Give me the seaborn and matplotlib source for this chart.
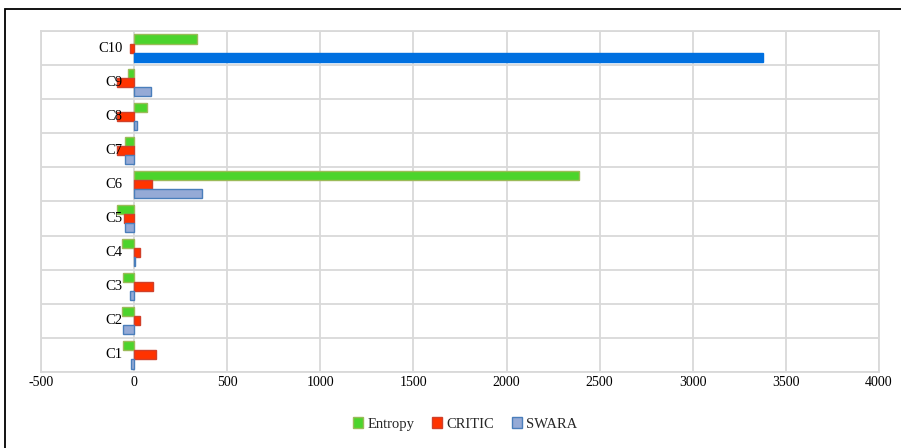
import matplotlib
matplotlib.use("Agg")
import matplotlib.pyplot as plt
import seaborn as sns
import pandas as pd
from matplotlib.patches import Patch, Rectangle
from matplotlib.transforms import blended_transform_factory, offset_copy

# Criteria and scores of the three weighting methods
criteria = ["C1", "C2", "C3", "C4", "C5", "C6", "C7", "C8", "C9", "C10"]
entropy = [-61, -63, -61, -66, -93, 2387, -47, 68, -32, 340]
critic = [118, 32, 104, 31, -52, 96, -90, -90, -93, -23]
swara = [-16, -61, -21, 4, -48, 364, -50, 14, 91, 3378]
methods = ["Entropy", "CRITIC", "SWARA"]
xticks = [-500, 0, 500, 1000, 1500, 2000, 2500, 3000, 3500, 4000]

df = pd.DataFrame({
    "criterion": criteria * 3,
    "method": ["Entropy"] * 10 + ["CRITIC"] * 10 + ["SWARA"] * 10,
    "value": entropy + critic + swara,
})

fills = {"Entropy": "#4cd42c", "CRITIC": "#ff3300", "SWARA": "#95aad6"}
edges = {"Entropy": "#9bbb59", "CRITIC": "#d0402a", "SWARA": "#4a7ebb"}

sns.set_theme(style="white")
plt.rcParams["font.family"] = ["Liberation Serif", "DejaVu Serif"]

fig = plt.figure(figsize=(9.01, 4.48), dpi=100)
ax = fig.add_axes([41 / 901, 1 - 372 / 448, (879 - 41) / 901, (372 - 31) / 448])

order = criteria[::-1]
sns.barplot(data=df, x="value", y="criterion", hue="method", order=order,
            hue_order=methods, palette=fills, orient="h", width=0.8,
            saturation=1, legend=False, ax=ax, zorder=3)

for method, cont in zip(methods, ax.containers):
    for cat, bar in zip(order, cont):
        bar.set_edgecolor(edges[method])
        bar.set_linewidth(1.0)
        if method == "SWARA" and cat == "C10":
            bar.set_facecolor("#0070e0")
            bar.set_edgecolor("#0070e0")

ax.set_xlim(-500, 4000)
ax.set_ylim(len(criteria) - 0.5, -0.5)
ax.set_xticks(xticks)
ax.set_xticklabels([str(v) for v in xticks], fontsize=10)
ax.tick_params(axis="x", length=0, pad=3, colors="#000000")
ax.set_yticks([i - 0.5 for i in range(len(criteria) + 1)])
ax.set_yticklabels([])
ax.tick_params(axis="y", length=0)
ax.set_xlabel("")
ax.set_ylabel("")
ax.grid(True, axis="both", color="#d9d9d9", linewidth=1.3, zorder=0)
ax.set_axisbelow(True)
for sp in ax.spines.values():
    sp.set_color("#d9d9d9")
    sp.set_linewidth(1.3)

# Category labels sit beside the zero axis, drawn over the bars
trans = offset_copy(blended_transform_factory(ax.transData, ax.transData),
                    fig=fig, x=-8.5, y=0, units="points")
for i, cat in enumerate(order):
    ax.text(0, i, cat, transform=trans, ha="right", va="center",
            fontsize=10.5, color="#000000", zorder=6)

handles = [Patch(facecolor=fills[m], edgecolor=edges[m], label=m) for m in methods]
fig.legend(handles=handles, loc="center", bbox_to_anchor=(465 / 901, 1 - 424 / 448),
           ncol=3, frameon=False, fontsize=10.5, handlelength=0.7, handleheight=0.7,
           handletextpad=0.3, columnspacing=1.2)

# Outer chart frame
fig.patches.append(Rectangle((4.5 / 901, -0.05), 1.0, 1 - 9.5 / 448 + 0.05,
                             transform=fig.transFigure, fill=False,
                             edgecolor="#000000", linewidth=1.3))

fig.savefig("out.png", dpi=100)
